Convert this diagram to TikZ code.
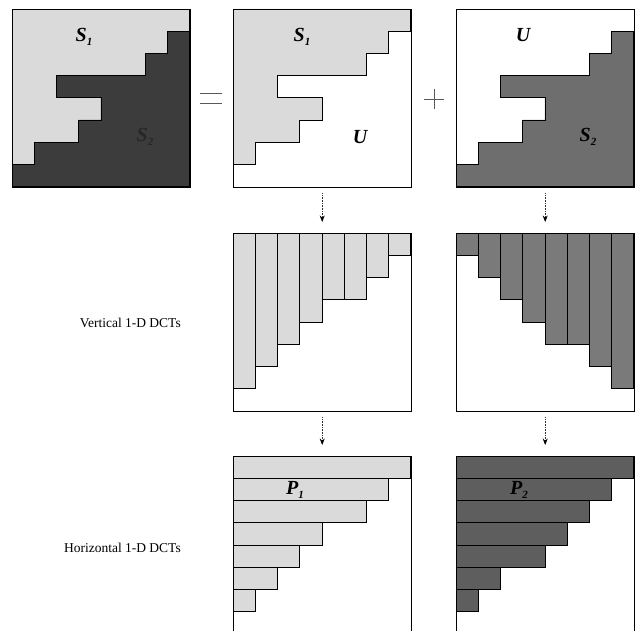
\documentclass[tikz,border=0pt]{standalone}
\usepackage{fontspec}
\setmainfont{Liberation Serif}
\usetikzlibrary{arrows.meta}
\definecolor{lite}{HTML}{DADADA}
\definecolor{darkA}{HTML}{3C3C3C}
\definecolor{medB}{HTML}{6E6E6E}
\definecolor{medC}{HTML}{7A7A7A}
\definecolor{medD}{HTML}{5E5E5E}
\newcommand\subtx[1]{\raisebox{-0.45ex}{\fontsize{11}{11}\selectfont #1}}
\begin{document}
\begin{tikzpicture}[x=1pt,y=-1pt,
  sq/.style={draw=black, line width=0.8pt, minimum size=177.6pt, inner sep=0pt, anchor=north west},
  cellbox/.style={draw=black, line width=0.6pt},
  lite/.style={cellbox, fill=lite},
  darkreg/.style={cellbox, fill=darkA},
  medreg/.style={cellbox, fill=medB},
  medcol/.style={cellbox, fill=medC},
  medrow/.style={cellbox, fill=medD},
  grid/.style={x=22.2pt, y=-22.2pt},
  lbl/.style={inner sep=0pt, font=\bfseries\itshape\fontsize{20}{20}\selectfont},
  side/.style={inner sep=0pt, anchor=east, font=\fontsize{13.5}{14}\selectfont},
  arr/.style={densely dotted, line width=0.6pt, black!80, -{Stealth[length=6.5pt,width=5pt,black]}, shorten <=6pt, shorten >=11pt},
  sign/.style={line width=0.7pt, black!65}
]
\useasboundingbox (0,0) rectangle (637,631);

% ---- top-left: S1 + S2 ----
\begin{scope}[shift={(12pt,-9pt)}, grid]
  \fill[lite] (0,0) rectangle (8,8);
  \draw[darkreg] (8,1) -- (8,8) -- (0,8) -- (0,7) -- (1,7) -- (1,6) -- (3,6) -- (3,5) -- (4,5) -- (4,4) -- (2,4) -- (2,3) -- (6,3) -- (6,2) -- (7,2) -- (7,1) -- cycle;
\end{scope}
% ---- top-middle: S1 ----
\begin{scope}[shift={(233pt,-9pt)}, grid]
  \draw[lite] (0,0) -- (8,0) -- (8,1) -- (7,1) -- (7,2) -- (6,2) -- (6,3) -- (2,3) -- (2,4) -- (4,4) -- (4,5) -- (3,5) -- (3,6) -- (1,6) -- (1,7) -- (0,7) -- cycle;
\end{scope}
% ---- top-right: S2 ----
\begin{scope}[shift={(456pt,-9pt)}, grid]
  \draw[medreg] (8,1) -- (8,8) -- (0,8) -- (0,7) -- (1,7) -- (1,6) -- (3,6) -- (3,5) -- (4,5) -- (4,4) -- (2,4) -- (2,3) -- (6,3) -- (6,2) -- (7,2) -- (7,1) -- cycle;
\end{scope}
% ---- vertical DCTs ----
\begin{scope}[shift={(233pt,-233pt)}, grid]
  \foreach \h [count=\j from 0] in {7,6,5,4,3,3,2,1}
    \draw[lite] (\j,0) rectangle (\j+1,\h);
\end{scope}
\begin{scope}[shift={(456pt,-233pt)}, grid]
  \foreach \h [count=\j from 0] in {1,2,3,4,5,5,6,7}
    \draw[medcol] (\j,0) rectangle (\j+1,\h);
\end{scope}
% ---- horizontal DCTs ----
\begin{scope}[shift={(233pt,-456pt)}, grid]
  \foreach \w [count=\i from 0] in {8,7,6,4,3,2,1}
    \draw[lite] (0,\i) rectangle (\w,\i+1);
\end{scope}
\begin{scope}[shift={(456pt,-456pt)}, grid]
  \foreach \w [count=\i from 0] in {8,7,6,5,4,2,1}
    \draw[medrow] (0,\i) rectangle (\w,\i+1);
\end{scope}

% ---- square frames ----
\node[sq] (a) at (12,9) {};
\node[sq] (b) at (233,9) {};
\node[sq] (c) at (456,9) {};
\node[sq] (d) at (233,233) {};
\node[sq] (e) at (456,233) {};
\node[sq] (f) at (233,456) {};
\node[sq] (g) at (456,456) {};

% ---- region labels ----
\node[lbl] (s1a) at (84,37) {S\subtx{1}};
\node[lbl, text=black!85] (s2a) at (145,137) {S\subtx{2}};
\node[lbl] (s1b) at (302,37) {S\subtx{1}};
\node[lbl] (ub) at (360,137) {U};
\node[lbl] (uc) at (523,35) {U};
\node[lbl] (s2c) at (588,137) {S\subtx{2}};
\node[lbl] (p1) at (295,490) {P\subtx{1}};
\node[lbl] (p2) at (519,490) {P\subtx{2}};

% ---- = and + ----
\draw[sign] (200,93) -- (222,93);
\draw[sign] (200,103) -- (222,103);
\draw[sign] (424,99) -- (444,99);
\draw[sign] (434,89) -- (434,109);

% ---- arrows ----
\draw[arr] (b.south) -- (d.north);
\draw[arr] (c.south) -- (e.north);
\draw[arr] (d.south) -- (f.north);
\draw[arr] (e.south) -- (g.north);

% ---- side labels ----
\node[side] (vl) at (181,323) {Vertical 1-D DCTs};
\node[side] (hl) at (181,548) {Horizontal 1-D DCTs};
\end{tikzpicture}
\end{document}
